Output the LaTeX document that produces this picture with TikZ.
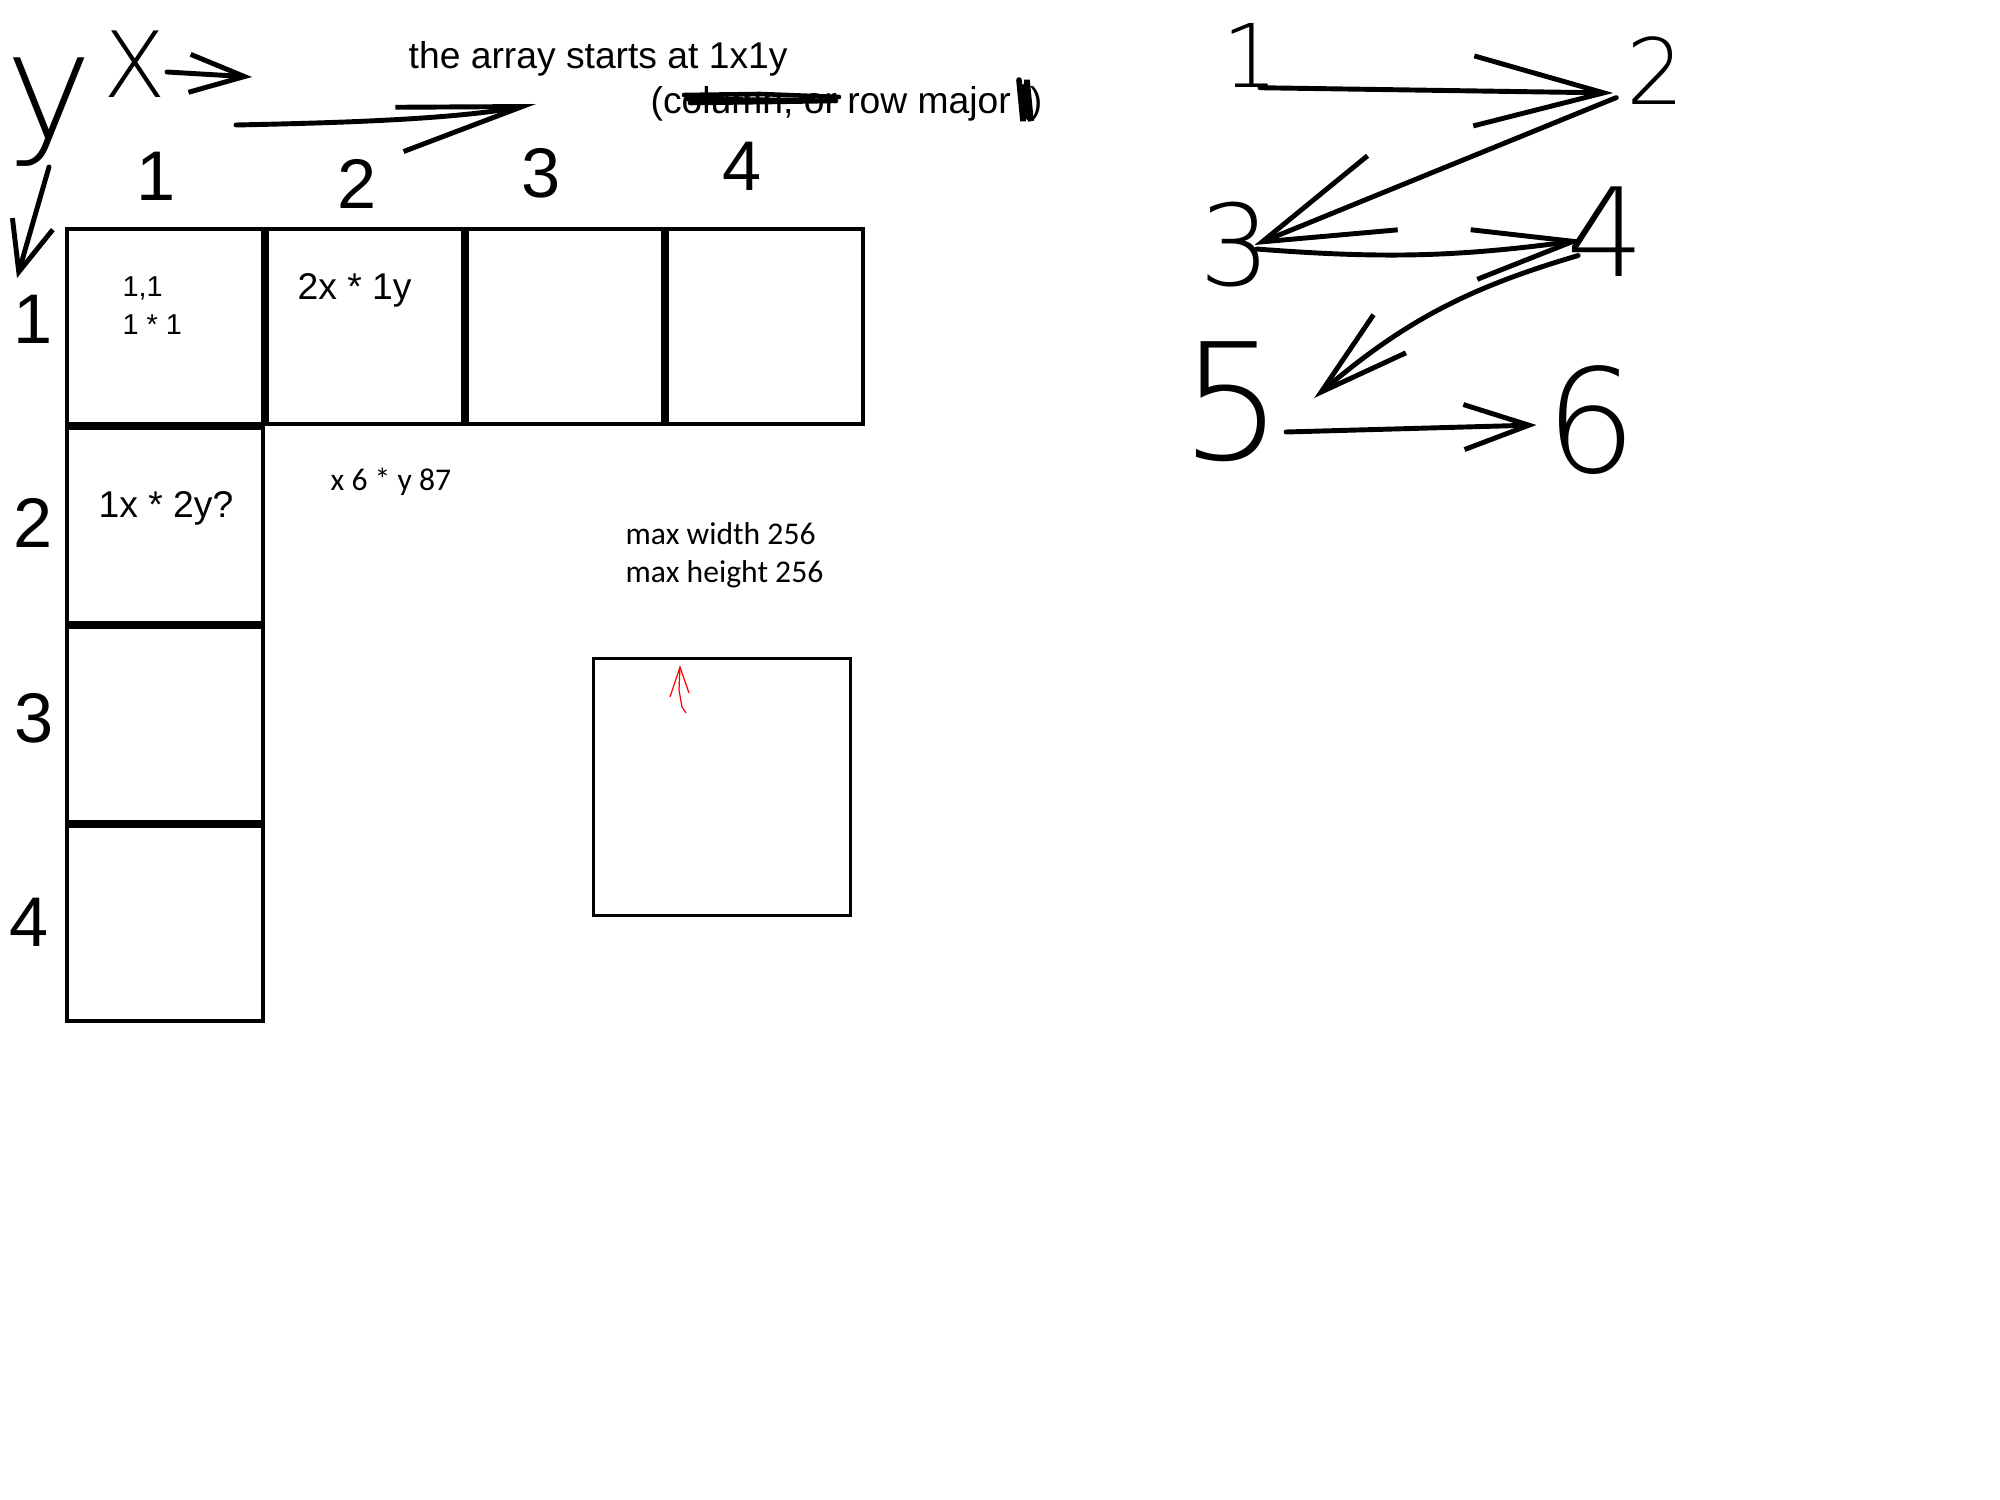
\documentclass[tikz,border=0pt]{standalone}
\usepackage{fontspec}
\setmainfont{Liberation Sans}
\newfontfamily\calfont{Carlito}
\IfFontExistsTF{DejaVuSans-ExtraLight.ttf}
  {\newfontfamily\handfont{DejaVuSans-ExtraLight.ttf}}
  {\newfontfamily\handfont{DejaVu Sans}}
\usetikzlibrary{positioning,arrows.meta}

\tikzset{
  cell/.style={draw, line width=1.1pt, minimum width=19.6mm, minimum height=19.5mm, inner sep=0pt},
  num/.style={font=\fontsize{20}{20}\selectfont, inner sep=0pt},
  note/.style={font=\fontsize{10.6}{12}\selectfont, inner sep=0pt, anchor=base west},
  small/.style={font=\fontsize{8.2}{10}\selectfont, inner sep=0pt, anchor=base west},
  cal/.style={font=\calfont\fontsize{9}{11}\selectfont, inner sep=0pt, anchor=base west},
  hand/.style={font=\handfont\fontsize{#1}{#1}\selectfont, inner sep=0pt},
  scribble/.style 2 args={line width=1.4pt, line cap=round, line join=round,
    -{Straight Barb[length=#1, width=#2]}},
}

\begin{document}
\begin{tikzpicture}[x=0.1mm, y=-0.1mm]
    \useasboundingbox (0,0) rectangle (2000,1500);
    % the grid
    \node[cell] (c11) at (165,326.5) {};
    \node[cell, right=0pt of c11] (c12) {};
    \node[cell, right=0pt of c12] (c13) {};
    \node[cell, right=0pt of c13] (c14) {};
    \node[cell, below=0pt of c11] (c21) {};
    \node[cell, below=0pt of c21] (c31) {};
    \node[cell, below=0pt of c31] (c41) {};
    \node[num] (col1) at (156,176) {1};
    \node[num] (col2) at (357,184) {2};
    \node[num] (col3) at (541,173) {3};
    \node[num] (col4) at (742,166) {4};
    \node[num] (row1) at (33,319) {1};
    \node[num] (row2) at (33,523) {2};
    \node[num] (row3) at (34,718) {3};
    \node[num] (row4) at (29,922) {4};
    \node[small] (t11a) at (122,297) {1,1};
    \node[small] (t11b) at (122,335) {1 * 1};
    \node[note] (t12) at (297,300) {2x * 1y};
    \node[note] (t21) at (98,517) {1x * 2y?};
    \node[cal] (xy) at (330,491) {x 6 * y 87};
    \node[cal] (maxw) at (625,545) {max width 256};
    \node[cal] (maxh) at (625,583) {max height 256};
    \node[draw, line width=0.9pt, minimum size=25.7mm, inner sep=0pt] (tex) at (722,787) {};
    \draw[red, line width=0.35pt] (670,697) -- (680,667) -- (689,693);
    \draw[red, line width=0.35pt] (680,667) -- (679,690) -- (682,707) -- (686,713);
    % heading
    \node[note] (title) at (408,69) {the array starts at 1x1y};
    \node[note] (major) at (650,114) {(column, or row major\kern1.9mm)};
    \begin{scope}[line width=1.3pt, line cap=round]
    \draw (684,95) -- (760,94) -- (839,97);
    \draw (687,99) -- (790,100) -- (836,101);
    \draw (690,103) -- (770,102) -- (831,101);
    \draw[line width=1.6pt] (1019,80) -- (1023,121) -- (1027,80) -- (1031,121) -- (1021,85) -- (1029,118);
    \end{scope}
    % axes
    \node[hand=42] (ylab) at (49,112) {y};
    \node[hand=26] (xlab) at (135,64) {X};
    \coordinate (ydown) at (17,278);
    \coordinate (xend) at (252,77);
    \coordinate (lstart) at (236,125);
    \coordinate (lend) at (536,104);
    \draw[scribble={5mm}{4.2mm}] (ylab.south) -- (ydown);
    \draw[scribble={5.5mm}{3.8mm}] ([yshift=-0.8mm]xlab.east) -- (xend);
    \draw[scribble={12.5mm}{4.5mm}] (lstart) .. controls (330,123) and (450,120) .. (lend);
    % order of the cells
    \node[hand=25] (n1) at (1250,55) {1};
    \node[hand=26] (n2) at (1656,71) {2};
    \node[hand=32] (n3) at (1235,245) {3};
    \node[hand=35] (n4) at (1606,232) {4};
    \node[hand=46] (n5) at (1232,402) {5};
    \node[hand=41] (n6) at (1591,420) {6};
    \draw[scribble={13mm}{7mm}] ([xshift=1mm]n1.south) -- ([shift={(-13,22)}]n2.west);
    \draw[scribble={13mm}{8mm}] ([shift={(-10,-8)}]n2.south west) -- ([xshift=-1.7mm]n3.east);
    \draw[scribble={10mm}{5mm}] ([shift={(-15,4)}]n3.east) to[bend right=6] ([shift={(17,8)}]n4.west);
    \draw[scribble={9mm}{5mm}] ([shift={(12,-22)}]n4.south west) to[bend right=12] ([shift={(30,-4)}]n5.east);
    \draw[scribble={6.5mm}{4.5mm}] ([shift={(2,30)}]n5.east) -- ([shift={(-8,5)}]n6.west);
\end{tikzpicture}
\end{document}
